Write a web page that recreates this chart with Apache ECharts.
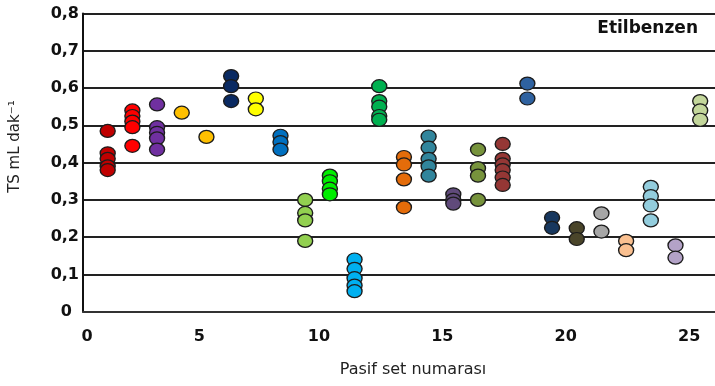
<!DOCTYPE html>
<html>
<head>
<meta charset="utf-8">
<script src="https://cdn.jsdelivr.net/npm/echarts@6/dist/echarts.min.js"></script>
<style>
  html, body { margin: 0; padding: 0; background: #ffffff; }
  #chart { width: 715px; height: 386px; }
</style>
</head>
<body>
<div id="chart"></div>
<script>
// Passive sampler set numbers (x) and their measured uptake rates (y)
const setNumbers = [1, 2, 3, 4, 5, 6, 7, 8, 9, 10, 11, 12, 13, 14, 15, 16, 17, 18, 19, 20, 21, 22, 23, 24, 25];

const tsValues = [
  [0.485, 0.425, 0.41, 0.39, 0.38],
  [0.54, 0.525, 0.51, 0.495, 0.445],
  [0.556, 0.495, 0.48, 0.465, 0.435],
  [0.534],
  [0.469],
  [0.632, 0.605, 0.565],
  [0.572, 0.543],
  [0.472, 0.455, 0.435],
  [0.30, 0.265, 0.245, 0.19],
  [0.365, 0.35, 0.33, 0.315],
  [0.14, 0.115, 0.09, 0.07, 0.055],
  [0.605, 0.565, 0.55, 0.525, 0.515],
  [0.415, 0.395, 0.355, 0.28],
  [0.47, 0.44, 0.41, 0.39, 0.365],
  [0.315, 0.30, 0.29],
  [0.435, 0.385, 0.365, 0.30],
  [0.45, 0.41, 0.395, 0.38, 0.36, 0.34],
  [0.612, 0.572],
  [0.252, 0.225],
  [0.224, 0.195],
  [0.264, 0.215],
  [0.19, 0.165],
  [0.335, 0.31, 0.285, 0.245],
  [0.178, 0.145],
  [0.565, 0.54, 0.515]
];

const setColors = [
  '#c00000', '#ff0000', '#7030a0', '#ffc000', '#ffc000',
  '#0a2a62', '#ffff00', '#0070c0', '#92d050', '#00ee00',
  '#00b0f0', '#00b050', '#e46c0a', '#31859c', '#604a7b',
  '#77933c', '#953735', '#2f62a0', '#17375e', '#4a452a',
  '#a6a6a6', '#fac090', '#93cddd', '#b3a2c7', '#c3d69b'
];

const xTickLabels = ['0', '5', '10', '15', '20', '25'];
const yTickLabels = ['0', '0,1', '0,2', '0,3', '0,4', '0,5', '0,6', '0,7', '0,8'];

const chartTitle = 'Etilbenzen';
const xName = 'Pasif set numarası';
const yName = 'TS mL dak\u207B\u00B9';

const FONT = 'DejaVu Sans';

const series = setNumbers.map((n, i) => ({
  type: 'scatter',
  name: 'Set ' + n,
  symbol: 'circle',
  symbolSize: [15, 13],
  data: tsValues[i].map(v => [n, v]),
  itemStyle: {
    color: setColors[i],
    borderColor: '#1c1c1c',
    borderWidth: 1.3,
    opacity: 1
  },
  emphasis: { disabled: true },
  z: 3
}));

const chart = echarts.init(document.getElementById('chart'), null, { renderer: 'canvas' });

chart.setOption({
  animation: false,
  backgroundColor: '#ffffff',
  title: {
    text: chartTitle,
    right: 12,
    top: 15,
    textStyle: { fontFamily: FONT, fontSize: 17, fontWeight: 'bold', color: '#111' }
  },
  grid: { left: 81, right: 0, top: 13.5, bottom: 74.3, containLabel: false },
  xAxis: {
    type: 'value',
    min: 0,
    max: 25.6,
    interval: 5,
    name: xName,
    nameLocation: 'middle',
    nameGap: 50,
    nameTextStyle: { fontFamily: FONT, fontSize: 16, color: '#222', padding: [0, 0, 0, 28] },
    axisLine: { show: true, lineStyle: { color: '#333', width: 2 } },
    axisTick: { show: false },
    splitLine: { show: false },
    axisLabel: {
      margin: 17,
      showMaxLabel: false,
      formatter: v => {
        const lbl = xTickLabels[Math.round(v / 5)];
        if (lbl === undefined || Math.abs(v - Math.round(v)) > 1e-6) return '';
        if (lbl === '0') return '{z|' + lbl + '}';
        if (lbl === '5') return '{f|' + lbl + '}';
        return '{n|' + lbl + '}';
      },
      rich: {
        z: { fontFamily: FONT, fontSize: 16, fontWeight: 'bold', color: '#111', padding: [0, 0, 0, 8] },
        f: { fontFamily: FONT, fontSize: 16, fontWeight: 'bold', color: '#111', padding: [0, 14, 0, 0] },
        n: { fontFamily: FONT, fontSize: 16, fontWeight: 'bold', color: '#111', padding: [0, 22, 0, 0] }
      }
    }
  },
  yAxis: {
    type: 'value',
    min: 0,
    max: 0.8,
    interval: 0.1,
    name: yName,
    nameLocation: 'middle',
    nameRotate: 90,
    nameGap: 60,
    nameTextStyle: { fontFamily: FONT, fontSize: 15, color: '#222', padding: [0, 0, 0, 32] },
    axisLine: { show: true, lineStyle: { color: '#111', width: 2 } },
    axisTick: { show: false },
    splitLine: { show: true, lineStyle: { color: '#222', width: 2 } },
    axisLabel: {
      margin: 4,
      formatter: v => {
        const lbl = yTickLabels[Math.round(v * 10)];
        if (lbl === undefined) return '';
        return lbl === '0' ? '{z|' + lbl + '}' : '{n|' + lbl + '}';
      },
      rich: {
        z: { fontFamily: FONT, fontSize: 16, fontWeight: 'bold', color: '#111', padding: [0, 7, 0, 0] },
        n: { fontFamily: FONT, fontSize: 16, fontWeight: 'bold', color: '#111' }
      }
    }
  },
  series: series
});
</script>
</body>
</html>
